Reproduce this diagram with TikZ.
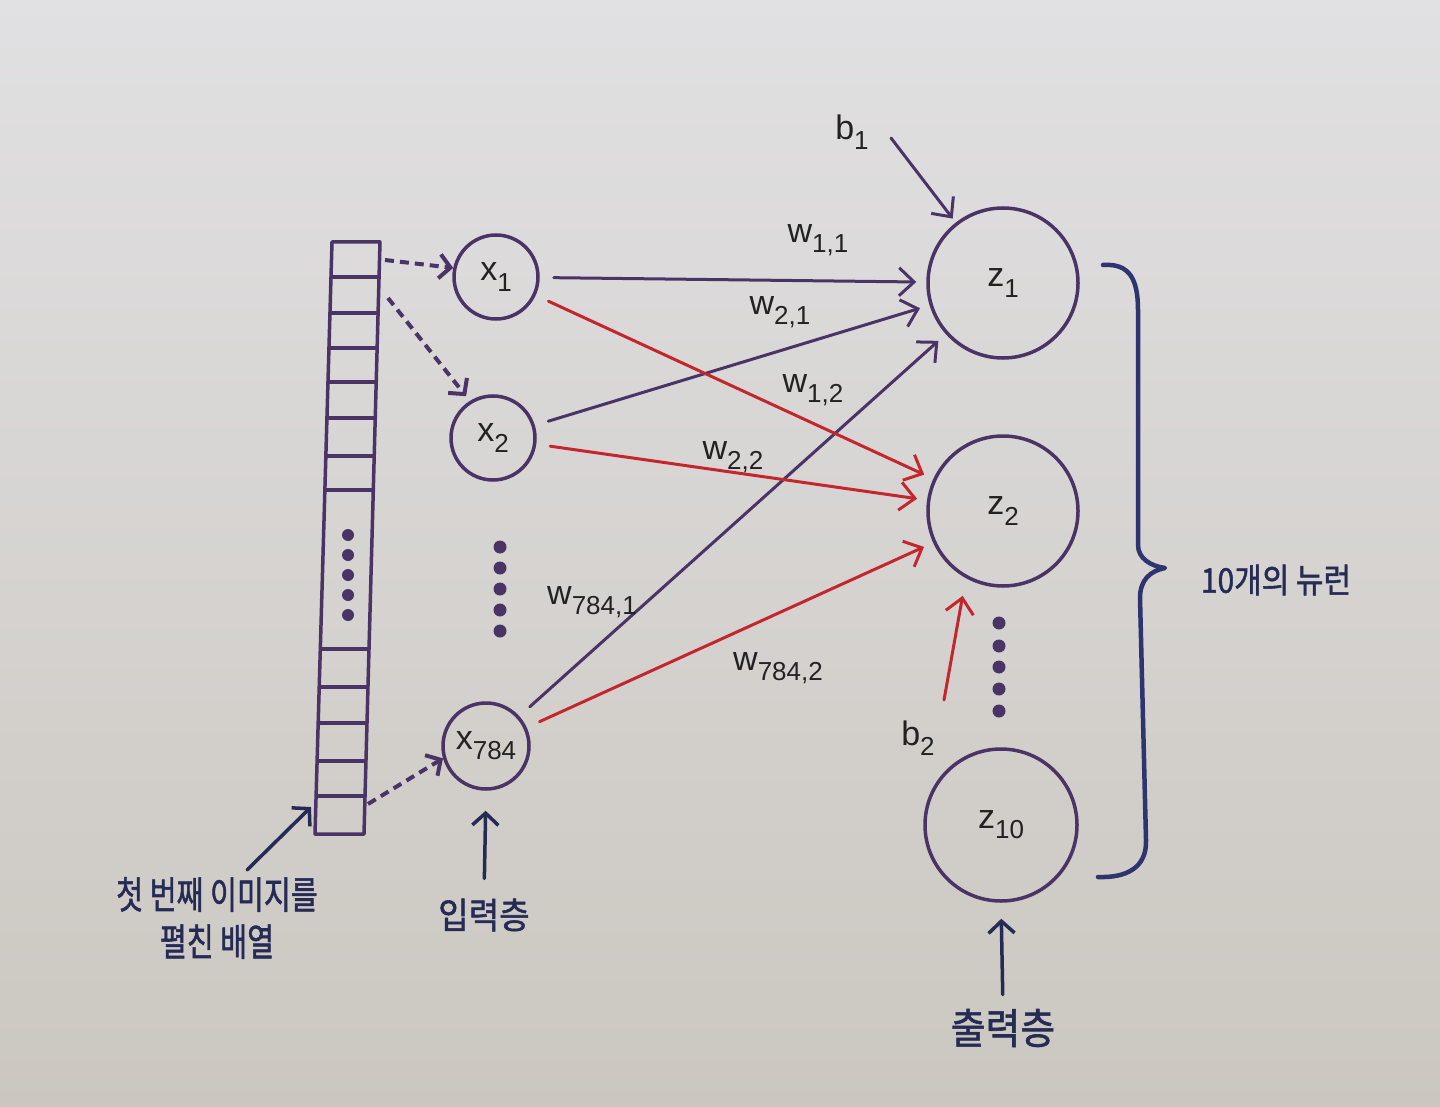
\documentclass[tikz,border=0pt]{standalone}
\usepackage{fontspec}
\usepackage{graphicx}
\setmainfont{Liberation Sans}
\newfontfamily\kfont{Noto Sans CJK KR}[FakeBold=1.5]
\usetikzlibrary{arrows.meta}
\definecolor{bgtop}{HTML}{E1E0E2}
\definecolor{bgbot}{HTML}{CBC7C0}
\definecolor{purp}{HTML}{4A3466}
\definecolor{redl}{HTML}{C4262E}
\definecolor{navy}{HTML}{262B55}
\definecolor{brace}{HTML}{2E3470}
\definecolor{ink}{HTML}{222222}
\newcommand\sbs[1]{\raisebox{-0.3em}{\fontsize{26}{26}\selectfont #1}}
\newcommand\ksc[2]{\scalebox{#1}[1]{#2}}
\begin{document}
\begin{tikzpicture}[x=1pt,y=-1pt,
  neuron/.style={circle,draw=purp,line width=3.5pt,inner sep=0pt,text=ink,
    font=\fontsize{34}{34}\selectfont},
  wlab/.style={text=ink,font=\fontsize{34}{34}\selectfont,inner sep=0pt},
  kor/.style={text=navy,inner sep=0pt,align=center},
  conp/.style={draw=purp,line width=3pt,line cap=round,
    -{Straight Barb[length=15pt,width=28pt]},shorten <=14pt,shorten >=10pt},
  conr/.style={conp,draw=redl},
  dasharr/.style={draw=purp,line width=4pt,dash pattern=on 9pt off 6pt,
    -{Straight Barb[length=11pt,width=24pt]}},
  blk/.style={draw=navy,line width=3.5pt,line cap=round,
    -{Straight Barb[length=12pt,width=26pt]}},
  arr/.style={draw=purp,line width=3.5pt,line join=round},
  dotf/.style={fill=purp}
]
\useasboundingbox (0,0) rectangle (1440,1107);
\fill[top color=bgtop,bottom color=bgbot] (0,0) rectangle (1440,1107);

% flattened image array
\draw[arr] (332,242) -- (380,242) -- (364,834) -- (315,834) -- cycle;
\foreach \yy in {277,313,348,382,418,456,490,649,687,723,761,796}
  \draw[arr] ({332-0.0287*(\yy-242)},\yy) -- ({380-0.027*(\yy-242)},\yy);
\foreach \yy in {535,555,575,595,615}
  \fill[dotf] (348,\yy) circle (6pt);

% input neurons
\node[neuron,minimum size=84pt] (x1) at (496,277) {x\sbs{1}};
\node[neuron,minimum size=84pt] (x2) at (493,438) {x\sbs{2}};
\node[neuron,minimum size=86pt] (x784) at (486,746) {x\sbs{784}};
\foreach \yy in {547,568,589,610,631}
  \fill[dotf] (500,\yy) circle (6.5pt);

% output neurons
\node[neuron,minimum size=150pt] (z1) at (1003,283) {z\sbs{1}};
\node[neuron,minimum size=150pt] (z2) at (1003,511) {z\sbs{2}};
\node[neuron,minimum size=152pt] (z10) at (1001,825) {z\sbs{10}};
\foreach \yy in {623,646,667,689,711}
  \fill[dotf] (999,\yy) circle (6.5pt);

% dashed arrows from array
\coordinate (a1) at (385,260);
\coordinate (a2) at (388,298);
\coordinate (a3) at (368,804);
\draw[dasharr] (a1) -- (x1.168);
\draw[dasharr,shorten >=6pt] (a2) -- (x2.122);
\draw[dasharr] (a3) -- (x784.196);

% weights
\draw[conp] (x1) -- (z1);
\draw[conp] (x2) -- (z1);
\draw[conp] (x784) -- (z1);
\draw[conr] (x1) -- (z2);
\draw[conr] (x2) -- (z2);
\draw[conr] (x784) -- (z2);

\node[wlab] (w11) at (818,240) {w\sbs{1,1}};
\node[wlab] (w21) at (780,312) {w\sbs{2,1}};
\node[wlab] (w12) at (813,390) {w\sbs{1,2}};
\node[wlab] (w22) at (733,457) {w\sbs{2,2}};
\node[wlab] (w7841) at (592,602) {w\sbs{784,1}};
\node[wlab] (w7842) at (778,668) {w\sbs{784,2}};

% biases
\node[wlab] (b1) at (852,132) {b\sbs{1}};
\coordinate (b1s) at (891,138);
\draw[draw=purp,line width=3pt,line cap=round,
  -{Straight Barb[length=15pt,width=28pt]},shorten >=5pt] (b1s) -- (z1.128);
\node[wlab] (b2) at (918,738) {b\sbs{2}};
\coordinate (b2s) at (944,700);
\draw[draw=redl,line width=3pt,line cap=round,
  -{Straight Barb[length=15pt,width=28pt]},shorten >=18pt] (b2s) -- (z2.241);

% brace
\draw[brace,line width=4.5pt,line cap=round,line join=round]
  (1103,265) .. controls (1130,263) and (1138,280) .. (1138,310)
  -- (1138,545) .. controls (1138,558) and (1150,566) .. (1165,568)
  .. controls (1150,571) and (1140,580) .. (1140,598)
  -- (1146,840) .. controls (1147,868) and (1126,878) .. (1098,877);
\node[kor,font=\kfont\fontsize{34}{34}\selectfont] (ten) at (1276,580)
  {\ksc{0.88}{10개의 뉴런}};

% bottom labels
\node[kor,font=\kfont\fontsize{38}{47}\selectfont] (kimg) at (217,918)
  {\ksc{0.77}{첫 번째 이미지를}\\\ksc{0.77}{펼친 배열}};
\coordinate (k1s) at (247,870);
\coordinate (arrbl) at (311,807);
\draw[blk] (k1s) -- (arrbl);

\node[kor,font=\kfont\fontsize{36}{36}\selectfont] (inl) at (484,915)
  {\ksc{0.92}{입력층}};
\draw[blk,shorten <=20pt,shorten >=20pt] (inl.north) -- (x784.south);

\node[kor,font=\kfont\fontsize{42}{42}\selectfont] (outl) at (1003,1028)
  {\ksc{0.9}{출력층}};
\draw[blk,shorten <=14pt,shorten >=16pt] (outl.north) -- (z10.south);
\end{tikzpicture}
\end{document}
